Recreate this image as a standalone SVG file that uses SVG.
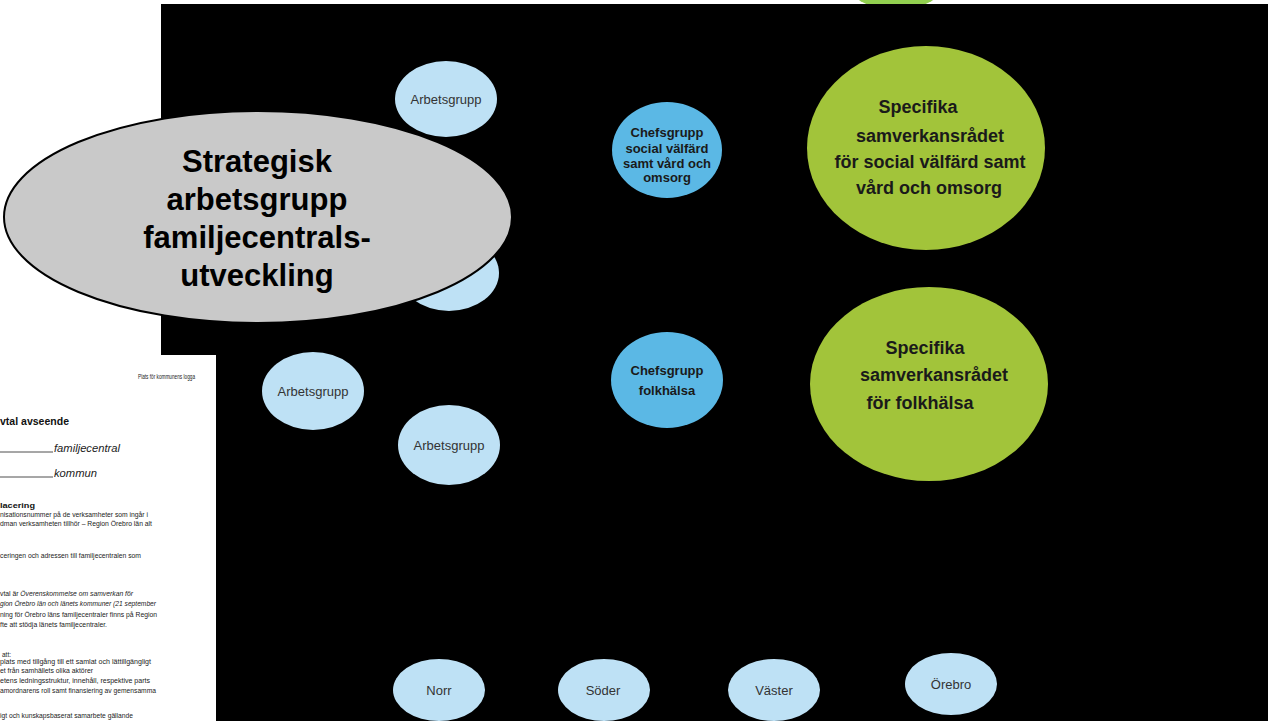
<svg xmlns="http://www.w3.org/2000/svg" width="1268" height="721" viewBox="0 0 1268 721">
<style>
.lb{fill:#bee1f5}
.cb{fill:#5bb8e5}
.gr{fill:#a2c43a}
.t1{font-family:"Liberation Sans",Arial,sans-serif;font-size:13px;fill:#333;text-anchor:middle}
.t2{font-family:"Liberation Sans",Arial,sans-serif;font-size:13px;font-weight:bold;fill:#1a1a1a;text-anchor:middle}
.t3{font-family:"Liberation Sans",Arial,sans-serif;font-size:18px;font-weight:bold;fill:#1a1a1a;text-anchor:middle}
.t4{font-family:"Liberation Sans",Arial,sans-serif;font-size:31px;font-weight:bold;fill:#000;text-anchor:middle}
.d{font-family:"Liberation Sans",Arial,sans-serif;font-size:6.5px;fill:#222}
</style>
<rect width="1268" height="721" fill="#fff"/>
<ellipse cx="896" cy="-20" rx="50" ry="30" fill="#92d050"/>
<rect x="161" y="4" width="1107" height="717" fill="#000"/>

<g id="document">
<rect x="0" y="355" width="216" height="366" fill="#fff"/>
<text class="d" x="138" y="379" font-size="4.5" textLength="57" lengthAdjust="spacingAndGlyphs">Plats för kommunens logga</text>
<text x="0" y="425" font-family="Liberation Sans,Arial,sans-serif" font-size="11" font-weight="bold" fill="#111" textLength="69" lengthAdjust="spacingAndGlyphs">vtal avseende</text>
<line x1="0" y1="452" x2="53" y2="452" stroke="#222" stroke-width="0.8"/>
<text x="54" y="452" font-family="Liberation Sans,Arial,sans-serif" font-size="11" font-style="italic" fill="#222" textLength="66" lengthAdjust="spacingAndGlyphs">familjecentral</text>
<line x1="0" y1="477" x2="53" y2="477" stroke="#222" stroke-width="0.8"/>
<text x="54" y="477" font-family="Liberation Sans,Arial,sans-serif" font-size="11" font-style="italic" fill="#222" textLength="43" lengthAdjust="spacingAndGlyphs">kommun</text>
<text x="0" y="508" font-family="Liberation Sans,Arial,sans-serif" font-size="8" font-weight="bold" fill="#111" textLength="35" lengthAdjust="spacingAndGlyphs">lacering</text>
<text class="d" x="0" y="517" textLength="148" lengthAdjust="spacingAndGlyphs">nisationsnummer på de verksamheter som ingår i</text>
<text class="d" x="0" y="526" textLength="152" lengthAdjust="spacingAndGlyphs">dman verksamheten tillhör – Region Örebro län alt</text>
<text class="d" x="0" y="558" textLength="141" lengthAdjust="spacingAndGlyphs">ceringen och adressen till familjecentralen som</text>
<text class="d" x="0" y="596" textLength="133" lengthAdjust="spacingAndGlyphs">vtal är <tspan font-style="italic">Överenskommelse om samverkan för</tspan></text>
<text class="d" x="0" y="606" font-style="italic" textLength="156" lengthAdjust="spacingAndGlyphs">gion Örebro län och länets kommuner (21 september</text>
<text class="d" x="0" y="617" textLength="157" lengthAdjust="spacingAndGlyphs">ning för Örebro läns familjecentraler finns på Region</text>
<text class="d" x="0" y="627" textLength="107" lengthAdjust="spacingAndGlyphs">fte att stödja länets familjecentraler.</text>
<text class="d" x="2" y="657">att:</text>
<text class="d" x="0" y="664" textLength="151" lengthAdjust="spacingAndGlyphs">plats med tillgång till ett samlat och lättillgängligt</text>
<text class="d" x="0" y="673" textLength="93" lengthAdjust="spacingAndGlyphs">et från samhällets olika aktörer</text>
<text class="d" x="0" y="683" textLength="150" lengthAdjust="spacingAndGlyphs">etens ledningsstruktur, innehåll, respektive parts</text>
<text class="d" x="0" y="693" textLength="156" lengthAdjust="spacingAndGlyphs">amordnarens roll samt finansiering av gemensamma</text>
<text class="d" x="0" y="718" textLength="133" lengthAdjust="spacingAndGlyphs">igt och kunskapsbaserat samarbete gällande</text>
</g>

<g id="connectors"/>

<g id="arbetsgrupp1"><ellipse class="lb" cx="446" cy="99" rx="51" ry="38"/><text class="t1" x="446" y="104">Arbetsgrupp</text></g>
<g id="arbetsgrupp2"><ellipse class="lb" cx="449" cy="273" rx="50" ry="38"/></g>
<g id="arbetsgrupp3"><ellipse class="lb" cx="313" cy="391" rx="51" ry="39"/><text class="t1" x="313" y="396">Arbetsgrupp</text></g>
<g id="arbetsgrupp4"><ellipse class="lb" cx="449" cy="445" rx="51" ry="40"/><text class="t1" x="449" y="450">Arbetsgrupp</text></g>

<g id="strategisk">
<ellipse cx="258" cy="217" rx="254" ry="106" fill="#c9c9c9" stroke="#000" stroke-width="2"/>
<text class="t4" x="257" y="172">Strategisk</text>
<text class="t4" x="257" y="210">arbetsgrupp</text>
<text class="t4" x="257" y="248">familjecentrals-</text>
<text class="t4" x="257" y="286">utveckling</text>
</g>

<g id="chefsgrupp-social">
<ellipse class="cb" cx="667" cy="150" rx="55" ry="48"/>
<text class="t2" x="667" y="137">Chefsgrupp</text>
<text class="t2" x="667" y="153">social välfärd</text>
<text class="t2" x="667" y="168">samt vård och</text>
<text class="t2" x="667" y="182">omsorg</text>
</g>
<g id="chefsgrupp-folkhalsa">
<ellipse class="cb" cx="667" cy="380" rx="56" ry="48"/>
<text class="t2" x="667" y="375">Chefsgrupp</text>
<text class="t2" x="667" y="395">folkhälsa</text>
</g>

<g id="specifika-social">
<ellipse class="gr" cx="926" cy="148" rx="119" ry="102"/>
<text class="t3" x="918" y="113">Specifika</text>
<text class="t3" x="930" y="142">samverkansrådet</text>
<text class="t3" x="930" y="168">för social välfärd samt</text>
<text class="t3" x="929" y="194">vård och omsorg</text>
</g>
<g id="specifika-folkhalsa">
<ellipse class="gr" cx="929" cy="384" rx="119" ry="97"/>
<text class="t3" x="925" y="354">Specifika</text>
<text class="t3" x="934" y="381">samverkansrådet</text>
<text class="t3" x="920" y="409">för folkhälsa</text>
</g>

<g id="norr"><ellipse class="lb" cx="439" cy="690" rx="46" ry="31"/><text class="t1" x="439" y="695">Norr</text></g>
<g id="soder"><ellipse class="lb" cx="604" cy="690" rx="46" ry="31"/><text class="t1" x="603" y="695">Söder</text></g>
<g id="vaster"><ellipse class="lb" cx="774" cy="690" rx="46" ry="31"/><text class="t1" x="774" y="695">Väster</text></g>
<g id="orebro"><ellipse class="lb" cx="951" cy="684" rx="46" ry="31"/><text class="t1" x="951" y="689">Örebro</text></g>
</svg>
